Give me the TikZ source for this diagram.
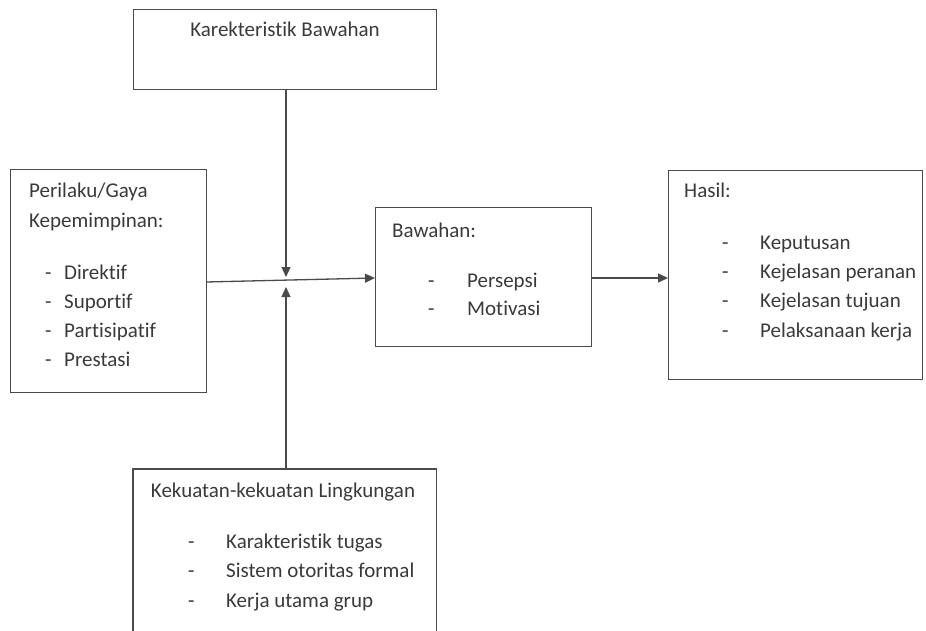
\documentclass[tikz,border=0pt]{standalone}
\usepackage{fontspec}
\setmainfont[Ligatures=NoCommon]{Carlito}
\usetikzlibrary{arrows.meta}
\definecolor{ink}{HTML}{3A3A3A}
\definecolor{line}{HTML}{4A4A4A}
\tikzset{
  box/.style={draw=line, line width=1.3pt, inner sep=0pt, anchor=north west},
  txt/.style={anchor=base west, inner sep=0pt, text=ink, font=\fontsize{21}{25}\selectfont},
  ctxt/.style={anchor=base, inner sep=0pt, text=ink, font=\fontsize{21}{25}\selectfont},
  conn/.style={draw=line, line width=1.3pt, -{Triangle[length=10pt,width=9pt]}}
}
\begin{document}
\begin{tikzpicture}[x=1pt,y=-1pt]
\useasboundingbox (0,0) rectangle (926,631);
% boxes
\node[box, minimum width=303pt, minimum height=80pt] (top) at (133,9) {};
\node[box, minimum width=196pt, minimum height=223pt] (left) at (10,169) {};
\node[box, minimum width=216pt, minimum height=139pt] (mid) at (375,207) {};
\node[box, minimum width=254pt, minimum height=209pt] (res) at (668,170) {};
\node[inner sep=0pt, anchor=north west, minimum width=303pt, minimum height=170pt] (bot) at (133,469) {};
\draw[line width=1.3pt, draw=line] (bot.south west) -- (bot.north west) -- (bot.north east) -- (bot.south east);
% texts
\node[ctxt] (t1) at (285,37) {Karekteristik Bawahan};
\node[txt] (l1) at (29,198) {Perilaku/Gaya};
\node[txt] (l2) at (29,227) {Kepemimpinan:};
\node[txt] (ld1) at (45,279) {-};
\node[txt] (ld2) at (45,308) {-};
\node[txt] (ld3) at (45,337) {-};
\node[txt] (ld4) at (45,366) {-};
\node[txt] (l3) at (64,279) {Direktif};
\node[txt] (l4) at (64,308) {Suportif};
\node[txt] (l5) at (64,337) {Partisipatif};
\node[txt] (l6) at (64,366) {Prestasi};
\node[txt] (m1) at (392,237) {Bawahan:};
\node[txt] (md1) at (428,287) {-};
\node[txt] (md2) at (428,315) {-};
\node[txt] (m2) at (467,287) {Persepsi};
\node[txt] (m3) at (467,315) {Motivasi};
\node[txt] (r1) at (684,198) {Hasil:};
\node[txt] (rd1) at (722,249) {-};
\node[txt] (rd2) at (722,278) {-};
\node[txt] (rd3) at (722,307) {-};
\node[txt] (rd4) at (722,337) {-};
\node[txt] (r2) at (760,249) {Keputusan};
\node[txt] (r3) at (760,278) {Kejelasan peranan};
\node[txt] (r4) at (760,307) {Kejelasan tujuan};
\node[txt] (r5) at (760,337) {Pelaksanaan kerja};
\node[ctxt] (b1) at (283,497) {Kekuatan-kekuatan Lingkungan};
\node[txt] (bd1) at (188,548) {-};
\node[txt] (bd2) at (188,577) {-};
\node[txt] (bd3) at (188,607) {-};
\node[txt] (b2) at (226,548) {Karakteristik tugas};
\node[txt] (b3) at (226,577) {Sistem otoritas formal};
\node[txt] (b4) at (226,607) {Kerja utama grup};
% connectors
\coordinate (jt) at (286,277);
\coordinate (jb) at (286,287);
\coordinate (ls) at (206,282);
\coordinate (me) at (375,278);
\draw[conn] (top.south -| jt) -- (jt);
\draw[conn] (bot.north -| jb) -- (jb);
\draw[conn] (ls) -- (me);
\draw[conn] (mid.east |- me) -- (res.west |- me);
\end{tikzpicture}
\end{document}
